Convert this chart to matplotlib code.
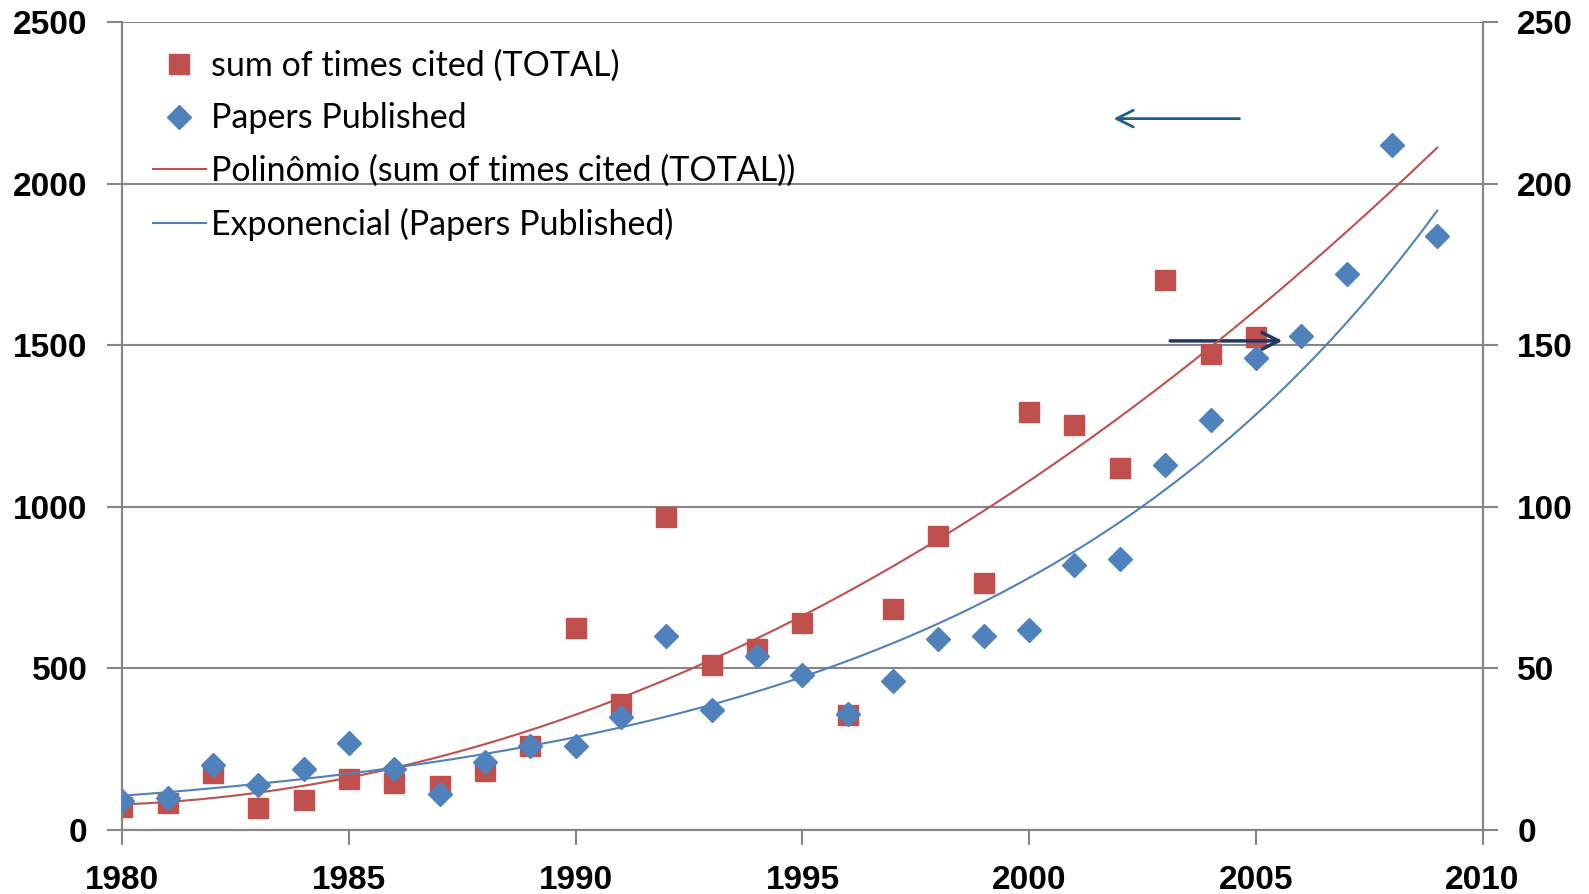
import matplotlib as mpl
import matplotlib.pyplot as plt
import numpy as np

# dados
anos_cit = np.arange(1980, 2006)
citacoes = [72, 85, 176, 69, 94, 157, 144, 135, 182, 261, 625, 389, 970, 512, 559,
            641, 355, 685, 911, 766, 1294, 1253, 1121, 1702, 1473, 1526]
anos_pap = np.arange(1980, 2010)
papers = [9, 10, 20, 14, 19, 27, 19, 11, 21, 26, 26, 35, 60, 37, 54,
          48, 36, 46, 59, 60, 62, 82, 84, 113, 127, 146, 153, 172, 212, 184]

xticks = [1980, 1985, 1990, 1995, 2000, 2005, 2010]
yticks_l = [0, 500, 1000, 1500, 2000, 2500]
yticks_r = [0, 50, 100, 150, 200, 250]

vermelho = '#C0504D'
azul = '#4F81BD'
cinza = '#868686'

fonte_eixo = ['Liberation Sans', 'DejaVu Sans']
fonte_leg = ['Lato', 'DejaVu Sans']

# linhas de tendencia (como no Excel)
c2 = np.polyfit(anos_cit, citacoes, 2)
ce = np.polyfit(anos_pap, np.log(papers), 1)
xx = np.linspace(1980, 2009, 200)
y_pol = np.polyval(c2, xx)
y_exp = np.exp(np.polyval(ce, xx))

fig = plt.figure(figsize=[15.89, 8.94], dpi=100)
ax = fig.add_axes((0.077, 0.0716, 0.933 - 0.077, 0.975 - 0.0716))
ax2 = ax.twinx()

l1, = ax.plot(anos_cit, citacoes, 's', color=vermelho, markersize=15, linestyle='none',
              label='sum of times cited (TOTAL)', zorder=3)
l3, = ax.plot(xx, y_pol, '-', color=vermelho, linewidth=1.5,
              label='Polinômio (sum of times cited (TOTAL))', zorder=4)
l2, = ax2.plot(anos_pap, papers, 'D', color=azul, markersize=12, linestyle='none',
               label='Papers Published', zorder=3)
l4, = ax2.plot(xx, y_exp, '-', color=azul, linewidth=1.5,
               label='Exponencial (Papers Published)', zorder=4)

ax.set_xlim(1980, 2010)
ax.set_ylim(0, 2500)
ax2.set_ylim(0, 250)
ax.set_xticks(xticks)
ax.set_yticks(yticks_l)
ax2.set_yticks(yticks_r)

ax.yaxis.grid(True, color=cinza, linewidth=1.5)
ax.set_axisbelow(True)
for a in (ax, ax2):
    a.spines['top'].set_visible(False)
    for s in ('left', 'right', 'bottom'):
        a.spines[s].set_color(cinza)
        a.spines[s].set_linewidth(1.5)
    a.tick_params(axis='both', direction='out', length=11, width=1.5, color=cinza,
                  labelsize=24)
ax.tick_params(axis='x', pad=14)
ax.tick_params(axis='y', pad=14)
ax2.tick_params(axis='y', pad=14)
for lab in ax.get_xticklabels() + ax.get_yticklabels() + ax2.get_yticklabels():
    lab.set_family(fonte_eixo)
    lab.set_fontweight('bold')

# setas
ax.annotate('', xy=(2001.8, 2202), xytext=(2004.7, 2202),
            arrowprops=dict(arrowstyle='->', color='#1F5F8B', lw=2, mutation_scale=30))
ax.annotate('', xy=(2005.65, 1514), xytext=(2003.05, 1514),
            arrowprops=dict(arrowstyle='->', color='#1F3864', lw=2.5, mutation_scale=30))

leg = ax2.legend(handles=[l1, l2, l3, l4], loc='upper left', frameon=False,
                 bbox_to_anchor=(0.0, 1.004), handlelength=1.55, handletextpad=0.15,
                 labelspacing=0.6, prop={'family': fonte_leg, 'size': 24.5})

plt.savefig('out.png', dpi=100)
